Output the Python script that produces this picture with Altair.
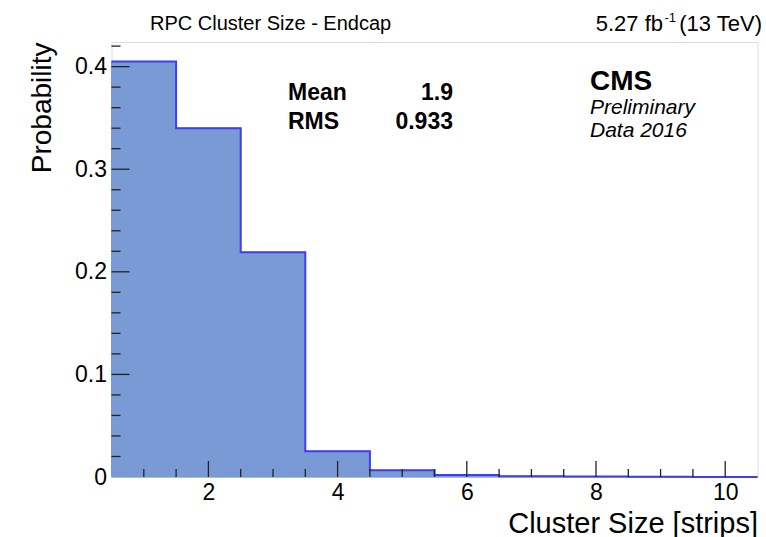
import altair as alt
import pandas as pd

# ---------------- data ----------------
bin_centers = [1, 2, 3, 4, 5, 6, 7, 8, 9, 10]
probabilities = [0.405, 0.340, 0.219, 0.025, 0.0065, 0.002, 0.0008, 0.0004, 0.0002, 0.0001]
bin_width = 1.0

x_major_ticks = [2, 4, 6, 8, 10]
x_minor_ticks = [1, 1.5, 2.5, 3, 3.5, 4.5, 5, 5.5, 6.5, 7, 7.5, 8.5, 9, 9.5]
y_major_ticks = [0.1, 0.2, 0.3, 0.4]
y_minor_ticks = [0.02, 0.04, 0.06, 0.08, 0.12, 0.14, 0.16, 0.18, 0.22, 0.24,
                 0.26, 0.28, 0.32, 0.34, 0.36, 0.38, 0.42]
y_label_values = [0, 0.1, 0.2, 0.3, 0.4]

title_text = "RPC Cluster Size - Endcap"
lumi_main = "5.27 fb"
lumi_sup = "-1"
lumi_energy = "(13 TeV)"
stat_names = ["Mean", "RMS"]
stat_values = ["1.9", "0.933"]
cms_text = "CMS"
cms_sub = ["Preliminary", "Data 2016"]
x_title = "Cluster Size [strips]"
y_title = "Probability"

# ---------------- layout ----------------
W, H = 646, 435
LEFT, TOP = 111.5, 42
FONT = "Liberation Sans"
FILL = "#7a9ad5"
LINE = "#3d3df2"

hist = pd.DataFrame({
    "center": bin_centers,
    "p": probabilities,
})
hist["lo"] = hist["center"] - bin_width / 2
hist["hi"] = hist["center"] + bin_width / 2

outline_rows = []
for i, (lo, hi, p) in enumerate(zip(hist["lo"], hist["hi"], hist["p"])):
    outline_rows.append({"x": lo, "y": p, "o": 2 * i})
    outline_rows.append({"x": hi, "y": p, "o": 2 * i + 1})
outline = pd.DataFrame(outline_rows)

xs = alt.Scale(domain=[0.5, 10.5], nice=False, zero=False)
ys = alt.Scale(domain=[0, 0.424], nice=False, zero=False)

x_axis = alt.Axis(
    values=x_major_ticks, format="d", ticks=False, domain=False, grid=False,
    labelFont=FONT, labelFontSize=23, labelColor="#000", labelPadding=4,
    title=x_title, titleFont=FONT, titleFontSize=29, titleFontWeight="normal",
    titleColor="#000", titleAnchor="end", titleAlign="right",
    titleBaseline="alphabetic", titleX=W, titleY=55,
)
y_axis = alt.Axis(
    values=y_label_values, ticks=False, domain=False, grid=False,
    labelFont=FONT, labelFontSize=23, labelColor="#000", labelPadding=5,
    labelExpr="datum.value == 0 ? '0' : format(datum.value, '.1f')",
    title=y_title, titleFont=FONT, titleFontSize=28, titleFontWeight="normal",
    titleColor="#000", titleAngle=270, titleAlign="right",
    titleBaseline="alphabetic", titleX=-61.5, titleY=0,
)

bars = alt.Chart(hist).mark_rect(color=FILL, opacity=1, stroke=FILL, strokeWidth=1).encode(
    x=alt.X("lo:Q", scale=xs, axis=x_axis),
    x2="hi:Q",
    y=alt.Y("p:Q", scale=ys, axis=y_axis),
    y2=alt.datum(0),
)

line = alt.Chart(outline).mark_line(color=LINE, strokeWidth=2).encode(
    x=alt.X("x:Q", scale=xs),
    y=alt.Y("y:Q", scale=ys),
    order="o:Q",
)

xmaj = alt.Chart(pd.DataFrame({"v": x_major_ticks})).mark_rule(color="#222", strokeWidth=1.3).encode(
    x=alt.X("v:Q", scale=xs), y=alt.value(H), y2=alt.value(H - 16))
xmin = alt.Chart(pd.DataFrame({"v": x_minor_ticks})).mark_rule(color="#222", strokeWidth=1.3).encode(
    x=alt.X("v:Q", scale=xs), y=alt.value(H), y2=alt.value(H - 8))
ymaj = alt.Chart(pd.DataFrame({"v": y_major_ticks})).mark_rule(color="#222", strokeWidth=1.3).encode(
    y=alt.Y("v:Q", scale=ys), x=alt.value(0), x2=alt.value(18))
ymin = alt.Chart(pd.DataFrame({"v": y_minor_ticks})).mark_rule(color="#222", strokeWidth=1.3).encode(
    y=alt.Y("v:Q", scale=ys), x=alt.value(0), x2=alt.value(9))


def txt(s, x, y, size, align="left", weight="normal", style="normal", baseline="alphabetic"):
    return alt.Chart(pd.DataFrame({"t": [s]})).mark_text(
        font=FONT, fontSize=size, align=align, baseline=baseline,
        fontWeight=weight, fontStyle=style, color="#000",
    ).encode(text="t:N", x=alt.value(x), y=alt.value(y))


texts = [
    txt(title_text, 150 - LEFT, 30 - TOP, 20),
    txt(lumi_energy, 762 - LEFT, 31 - TOP, 22, align="right"),
    txt(lumi_sup, 676 - LEFT, 22 - TOP, 13, align="right"),
    txt(lumi_main, 663 - LEFT, 31 - TOP, 22, align="right"),
    txt(stat_names[0], 288 - LEFT, 100 - TOP, 23, weight="bold"),
    txt(stat_values[0], 453 - LEFT, 100 - TOP, 23, align="right", weight="bold"),
    txt(stat_names[1], 288 - LEFT, 129 - TOP, 23, weight="bold"),
    txt(stat_values[1], 453 - LEFT, 129 - TOP, 23, align="right", weight="bold"),
    txt(cms_text, 590 - LEFT, 90 - TOP, 28, weight="bold"),
    txt(cms_sub[0], 590 - LEFT, 114 - TOP, 21, style="italic"),
    txt(cms_sub[1], 590 - LEFT, 137 - TOP, 21, style="italic"),
]

chart = alt.layer(bars, line, xmaj, xmin, ymaj, ymin, *texts).properties(
    width=W, height=H,
    autosize=alt.AutoSizeParams(type="none"),
    padding={"left": LEFT, "top": TOP, "right": 766 - LEFT - W, "bottom": 537 - TOP - H},
).configure_view(
    stroke="#555", strokeWidth=1.3
).configure(background="white")

chart.save("out.html", embed_options={"renderer": "svg", "actions": False})
